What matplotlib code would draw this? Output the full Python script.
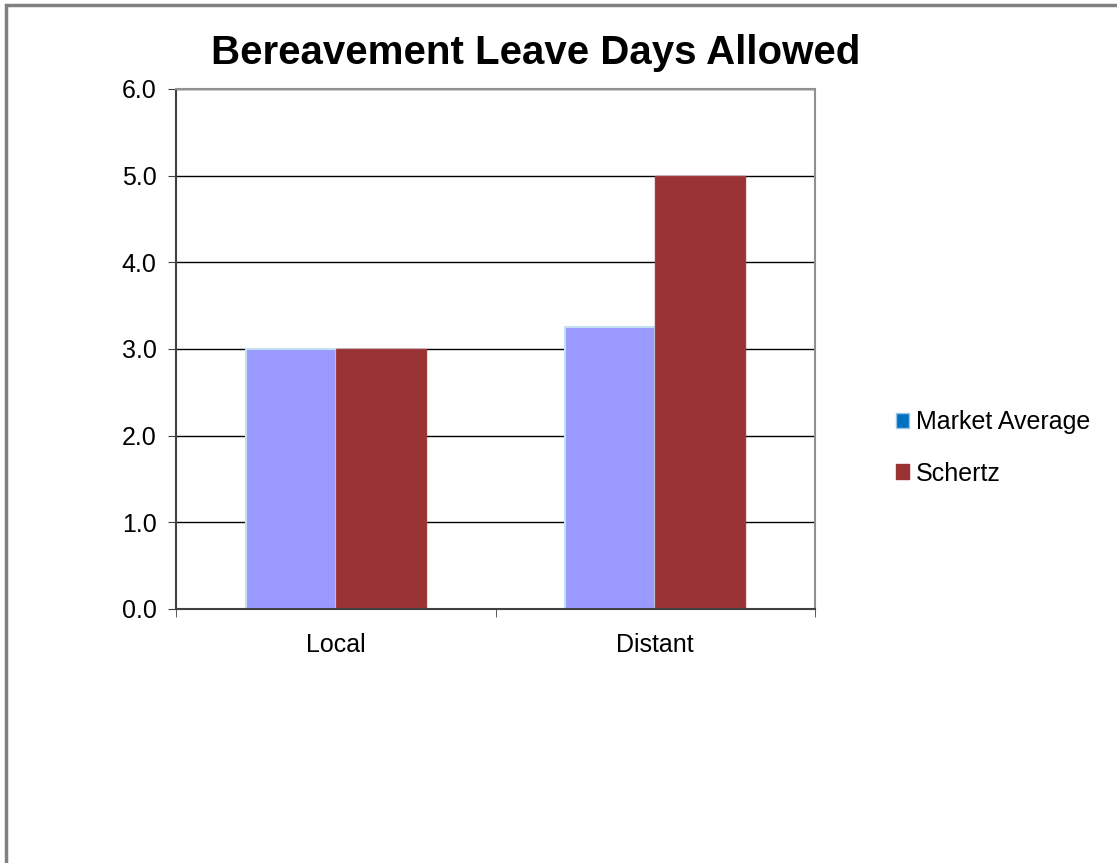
import matplotlib
matplotlib.use("Agg")
import matplotlib.pyplot as plt
from matplotlib.patches import Rectangle, Patch
import numpy as np

plt.rcParams['font.family'] = ['Liberation Sans', 'DejaVu Sans']

categories = ["Local", "Distant"]
series_names = ["Market Average", "Schertz"]
market_avg = [3.0, 3.25]
schertz = [3.0, 5.0]
yticks = [0.0, 1.0, 2.0, 3.0, 4.0, 5.0, 6.0]

W, H = 1117, 863
fig = plt.figure(figsize=(W / 100, H / 100), dpi=100)
fig.patch.set_facecolor("white")

# outer border (left & top visible)
fig.patches.append(Rectangle((6 / W, -0.05), 1.2, 1 - 5 / H + 0.05, transform=fig.transFigure,
                             fill=False, edgecolor="#808080", linewidth=2.5))

ax = fig.add_axes([176 / W, 1 - 609 / H, (815 - 176) / W, (609 - 89) / H])
x = np.arange(len(categories))
bw = 0.282
ax.bar(x - bw / 2, market_avg, bw, color="#9999FF", edgecolor="#C5E0F2", linewidth=1.5, zorder=3)
ax.bar(x + bw / 2, schertz, bw, color="#993333", edgecolor="#A33C3C", linewidth=1, zorder=3)

fs = 18
ax.set_xlim(-0.5, 1.5)
ax.set_ylim(0, 6)
ax.set_yticks(yticks)
ax.set_yticklabels([f"{v:.1f}" for v in yticks], fontsize=fs)
ax.set_xticks(x)
ax.set_xticklabels(categories, fontsize=fs)
ax.tick_params(axis="x", length=0, pad=17)
ax.set_xticks([-0.5, 0.5, 1.5], minor=True)
ax.tick_params(axis="x", which="minor", length=6, direction="out", color="#404040")
ax.tick_params(axis="y", length=6, direction="out", color="#404040", pad=8)
ax.yaxis.grid(True, color="black", linewidth=1, zorder=0)
ax.set_axisbelow(True)
for s in ["top", "right"]:
    ax.spines[s].set_color("#909090")
    ax.spines[s].set_linewidth(1.5)
ax.spines["left"].set_color("#404040")
ax.spines["left"].set_linewidth(1.5)
ax.spines["bottom"].set_color("#404040")
ax.spines["bottom"].set_linewidth(1.5)
ax.spines["bottom"].set_zorder(4)

fig.text(536 / W, 1 - 53 / H, "Bereavement Leave Days Allowed", ha="center", va="center",
         fontsize=29, fontweight="bold")

handles = [Patch(facecolor="#0070C0", edgecolor="#9DC3E6", linewidth=1),
           Patch(facecolor="#993333", edgecolor="#993333")]
fig.legend(handles, series_names, loc="center left", bbox_to_anchor=(883 / W, 1 - 448 / H),
           frameon=False, fontsize=fs, handlelength=0.55, handleheight=0.55, handletextpad=0.25,
           labelspacing=1.1, borderpad=0)

fig.savefig("out.png", dpi=100)
